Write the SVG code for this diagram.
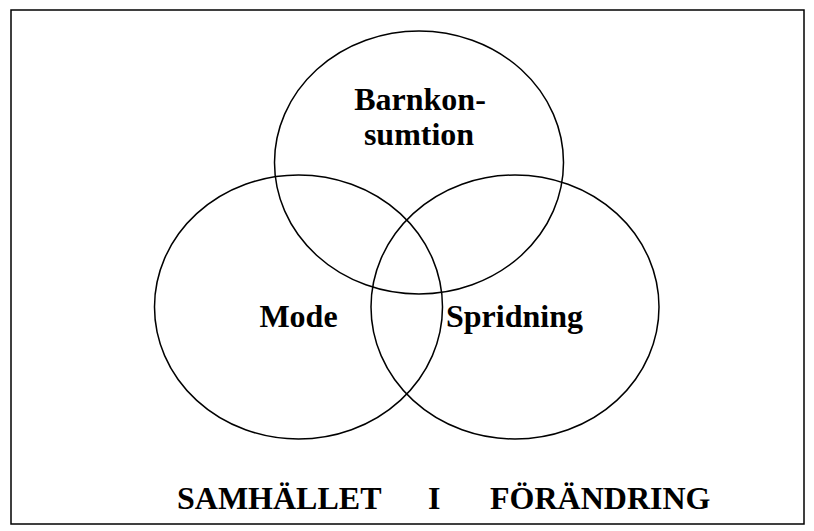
<svg xmlns="http://www.w3.org/2000/svg" width="814" height="531" viewBox="0 0 814 531">
  <style>
    .ring { fill: none; stroke: #000; stroke-width: 1.5; }
    .frame { fill: #fff; stroke: #000; stroke-width: 1.5; }
    .lbl { font-family: "Liberation Serif", "Times New Roman", serif; font-weight: bold; font-size: 32px; fill: #000; }
    .mid { text-anchor: middle; }
  </style>
  <rect class="frame" x="11" y="10" width="793" height="514"/>
  <g id="barnkonsumtion">
    <ellipse class="ring" cx="419" cy="162.5" rx="144.5" ry="131.5"/>
    <text class="lbl mid" x="420" y="110">Barnkon-</text>
    <text class="lbl mid" x="419" y="145">sumtion</text>
  </g>
  <g id="mode">
    <ellipse class="ring" cx="298.5" cy="307" rx="144" ry="132"/>
    <text class="lbl mid" x="298.5" y="327">Mode</text>
  </g>
  <g id="spridning">
    <ellipse class="ring" cx="515" cy="307" rx="144" ry="132"/>
    <text class="lbl mid" x="514.5" y="327">Spridning</text>
  </g>
  <g id="connectors"/>
  <g id="title">
    <text class="lbl" x="177" y="509">SAMHÄLLET</text>
    <text class="lbl" x="428" y="509">I</text>
    <text class="lbl" x="490" y="509">FÖRÄNDRING</text>
  </g>
</svg>
